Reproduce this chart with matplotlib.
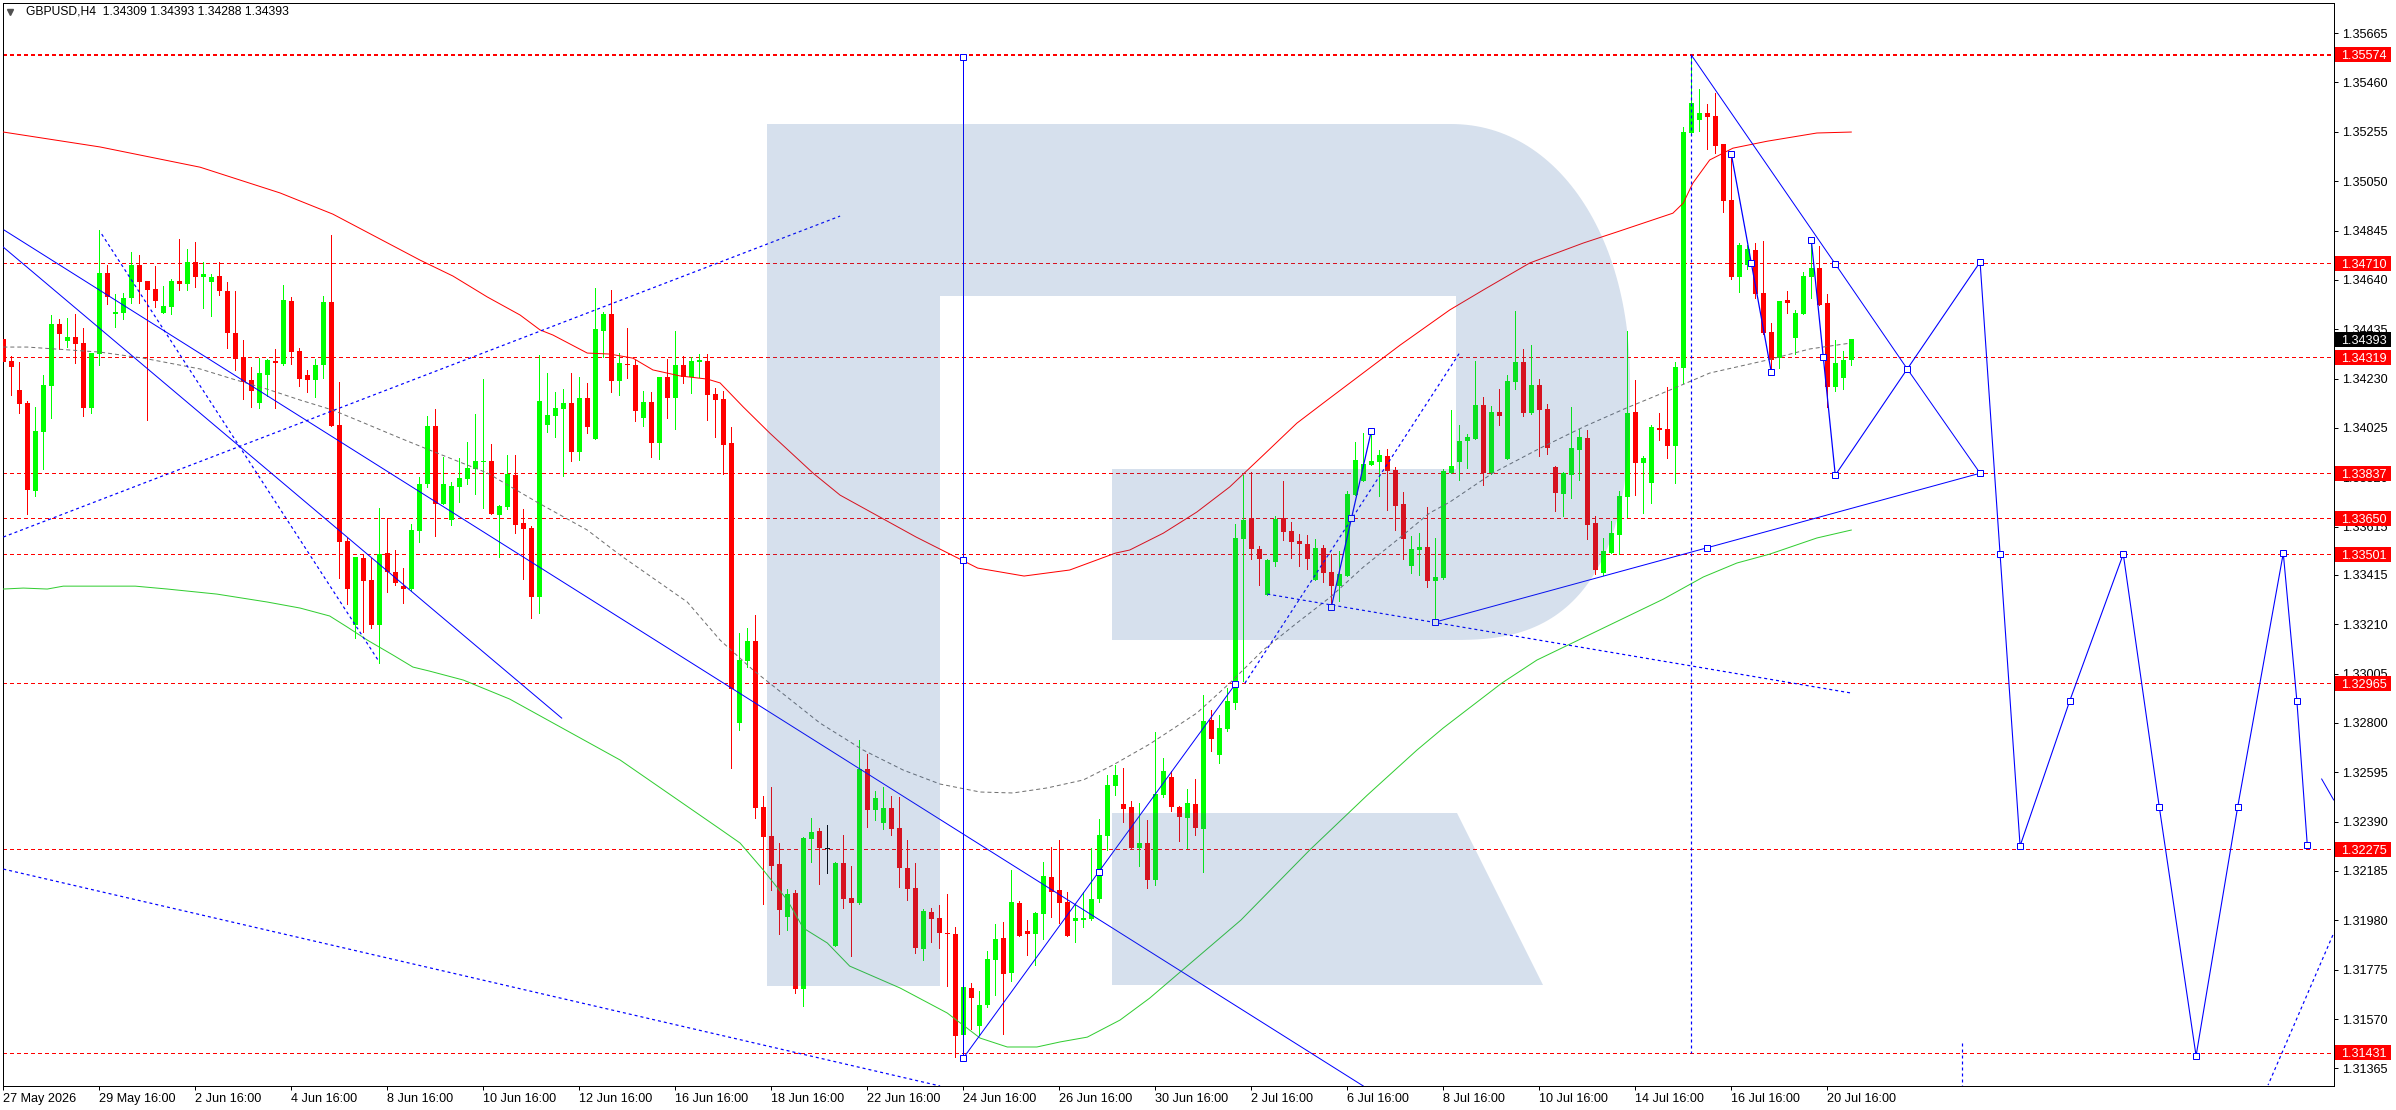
import numpy as np
import matplotlib
matplotlib.use("Agg")
import matplotlib.pyplot as plt
from matplotlib.patches import Rectangle, Polygon
from matplotlib.transforms import Affine2D, blended_transform_factory

plt.rcParams['font.family'] = ['Liberation Sans', 'DejaVu Sans']
plt.rcParams['lines.scale_dashes'] = False

W, H = 2396, 1110

# ---- candle values, in points (1e-5) ----
direction = ("rrrrgggrgr" "rggrgggrrr" "ggrgrggrrr" "rrggrgrrrg" "grrrgrrgrr" "rgggrggggg"
             "grggrrrggg" "grgrggrgrr" "grgrgrggrr" "rrggrrrrgr" "ggrkgrrgrg" "grrrrgrrrr"
             "grgggrgrrg" "grrrgggggg" "rrgrggrrgr" "grggggrrgg" "rrrrgrrggg" "gggrrrggrg"
             "gggggrgrgg" "rgrrrgggrr" "ggggrggrrg" "gggrrrrggr" "rrgrgggrrg" "gg")
highs = [
134573,134323,134299,134137,134112,134245,134494,134477,134481,134498,
134440,134336,134847,134702,134582,134586,134756,134744,134636,134698,
134615,134644,134810,134768,134797,134714,134664,134714,134632,134594,
134390,134278,134315,134311,134353,134619,134569,134357,134266,134311,
134573,134826,134216,133568,133489,133498,133485,133693,133651,133518,
133443,133626,133821,134075,134104,133904,133800,133900,133966,134083,
134228,133958,133705,133912,133912,133688,133618,134328,134253,134174,
134186,134253,134237,134212,134606,134506,134598,134336,134440,134307,
134178,134174,134237,134311,134427,134323,134319,134332,134332,134191,
134178,134029,133173,133194,133248,132497,132534,132301,132110,132106,
132327,132405,132363,132376,132222,132334,132206,132729,132671,132517,
132534,132497,132492,132314,132218,132027,132031,132044,132089,131952,
131703,131720,131687,131853,131965,131973,132189,132060,131981,132015,
132222,132284,132314,132098,132047,132098,132281,132401,132584,132625,
132613,132476,132467,132397,132762,132654,132600,132455,132525,132567,
132916,132853,132833,132945,133626,133830,133842,133534,133480,133659,
133804,133634,133584,133580,133564,133539,133501,133514,133763,133966,
134004,134012,133933,133937,133863,133759,133576,133589,133697,133568,
133855,134099,134037,134000,134303,134153,134116,134186,134245,134510,
134353,134369,134228,134124,133867,133842,134112,134021,134017,133659,
133568,133638,133763,134427,134224,133908,134037,134087,134195,134299,
135275,135574,135432,135370,135416,135204,135158,134793,134785,134793,
134801,134461,134552,134594,134515,134673,134805,134780,134581,134390,
134344,134393]
body_tops = [
134394,134303,134182,134129,134012,134203,134456,134456,134402,134402,
134377,134336,134669,134669,134506,134565,134702,134702,134636,134602,
134531,134636,134636,134714,134714,134664,134651,134656,134594,134419,
134319,134224,134253,134307,134303,134556,134552,134344,134245,134286,
134548,134548,134037,133556,133489,133485,133393,133502,133506,133427,
133368,133601,133792,134033,134033,133792,133784,133817,133858,133888,
133888,133888,133701,133834,133830,133630,133609,134137,134079,134108,
134129,134129,134149,134149,134436,134498,134498,134295,134290,134286,
134133,134133,134237,134237,134286,134286,134303,134307,134303,134166,
134145,133962,133061,133140,133140,132451,132331,132214,132089,132093,
132322,132347,132351,132281,132218,132218,132073,132609,132609,132488,
132447,132447,132363,132198,132114,132019,132015,131990,131928,131923,
131703,131699,131628,131819,131902,131906,132056,132052,131936,132010,
132164,132160,132106,132056,131990,131990,132068,132334,132542,132584,
132463,132451,132301,132301,132505,132600,132575,132451,132467,132463,
132808,132812,132779,132891,133568,133643,133651,133522,133476,133646,
133651,133597,133555,133543,133526,133526,133427,133418,133751,133892,
133875,133888,133912,133908,133850,133709,133522,133530,133530,133406,
133846,133867,133970,133987,134120,134120,134091,134091,134220,134299,
134299,134203,134203,134104,133863,133838,133942,133987,133983,133630,
133514,133589,133742,134087,134091,133900,134029,134025,134021,134278,
135254,135374,135333,135333,135320,135204,134972,134785,134768,134764,
134586,134423,134552,134556,134502,134656,134689,134689,134544,134295,
134307,134393]
body_bottoms = [
134299,134278,134124,133767,133763,134008,134199,134415,134386,134373,
134108,134108,134332,134569,134498,134502,134565,134632,134598,134552,
134502,134527,134623,134623,134651,134651,134632,134594,134419,134311,
134216,134178,134129,134245,134295,134290,134340,134228,134224,134224,
134286,134033,133552,133356,133206,133389,133206,133206,133427,133381,
133356,133356,133597,133792,133709,133709,133643,133780,133813,133855,
133884,133668,133664,133697,133622,133605,133323,133323,134037,134075,
134104,133925,133925,134029,133979,134427,134220,134220,134286,134095,
134066,133962,133962,134149,134149,134237,134237,134299,134161,134141,
133954,132940,132800,133057,132447,132327,132206,132023,131994,131695,
131695,132318,132281,132277,131873,132068,132052,132052,132438,132438,
132384,132359,132198,132110,131865,131860,131986,131928,131923,131499,
131503,131658,131541,131628,131815,131757,131761,131915,131923,131923,
132006,132098,132052,131915,131977,131981,131986,132068,132331,132538,
132442,132281,132281,132147,132147,132501,132451,132409,132405,132363,
132359,132733,132667,132774,132883,133564,133522,133480,133331,133468,
133593,133552,133543,133480,133393,133422,133368,133368,133410,133747,
133805,133871,133884,133846,133701,133564,133451,133518,133389,133389,
133402,133838,133884,133970,133979,133838,133838,134075,133896,134216,
134087,134087,134099,133942,133755,133751,133830,133933,133622,133435,
133422,133506,133580,133738,133880,133880,133796,134017,133950,133950,
134274,135250,135304,135316,135196,134967,134651,134651,134702,134582,
134419,134307,134315,134544,134398,134498,134651,134536,134195,134195,
134232,134309]
lows = [
134157,134161,134087,133668,133742,133855,134066,134353,134361,134295,
134075,134087,134286,134539,134444,134477,134544,134544,134058,134527,
134502,134498,134598,134598,134610,134523,134490,134577,134357,134266,
134145,134112,134108,134157,134108,134286,134290,134199,134174,134153,
134232,134033,133402,133293,133152,133177,133194,133048,133344,133373,
133298,133348,133552,133780,133576,133709,133622,133717,133792,133751,
133693,133668,133489,133688,133589,133398,133236,133257,134008,133987,
133825,133888,133892,134004,133979,134319,134174,134161,134232,134054,
134033,133904,133896,134066,134021,134212,134170,134237,134058,133987,
133834,132613,132771,133032,132405,132047,132106,131923,131940,131678,
131624,132222,132131,132177,131873,132031,131832,132047,132368,132396,
132359,132334,132118,132064,131844,131815,131890,131865,131707,131412,
131499,131529,131503,131620,131670,131508,131728,131915,131836,131795,
131902,131994,131969,131915,131890,131952,131981,132056,132273,132501,
132388,132281,132206,132114,132127,132492,132434,132310,132281,132334,
132181,132683,132633,132766,132858,132974,133480,133373,133331,133451,
133559,133485,133451,133439,133393,133385,133289,133306,133410,133747,
133805,133871,133742,133684,133601,133480,133422,133414,133364,133219,
133398,133838,133809,133858,133979,133788,133834,134037,133896,134186,
134075,134083,133908,133917,133680,133659,133734,133809,133564,133418,
133414,133506,133501,133655,133747,133672,133713,133975,133900,133796,
134212,135250,135258,135183,135167,134922,134643,134589,134685,134565,
134415,134266,134274,134502,134332,134498,134565,134536,134112,134178,
134186,134288]

# ---- moving averages: bar position and value ----
ma_red_bar = [0,12.1,24.6,34.6,41.2,52.1,56.2,60.5,64.6,67.1,68.7,73,75.8,78.7,81.2,84.6,88,89.6,92.5,95.8,101.2,104.6,114.1,121.8,127.6,133.3,139,140.8,145,149.2,153.3,157.5,161.7,165.5,174.6,180.8,185,190.8,197.5,201.7,208.7,210,211.2,213.3,216.2,220.5,226.7,231]
ma_red_val = [135254,135192,135108,135001,134913,134722,134656,134569,134494,134432,134411,134336,134332,134315,134266,134241,134228,134212,134112,134004,133838,133746,133572,133443,133410,133435,133505,133518,133588,133676,133780,133912,134045,134141,134369,134515,134598,134710,134793,134839,134917,134959,135042,135138,135187,135216,135250,135254]
ma_green_bar = [0,2.5,5.5,7.5,16.5,20.5,26.7,33,37.1,40.8,43,45.5,48.7,51.2,53.3,57.5,63.3,77.1,89.6,92.1,95,98,100,103,105.8,112.1,118,122.1,125.5,129.2,132.1,135.5,139.6,143.3,154.7,163.3,170.5,176.7,180,187.3,191.7,207.5,212.5,216.7,220.8,226.7,231]
ma_green_val = [133356,133360,133356,133368,133368,133356,133335,133302,133277,133244,133198,133144,133082,133032,133015,132978,132899,132646,132359,132301,132189,132064,131948,131886,131790,131699,131595,131491,131454,131454,131475,131495,131566,131657,131981,132272,132500,132687,132779,132965,133061,133314,133406,133464,133501,133568,133601]
ma_gray_bar = [0,3,12.1,17.5,24.6,28.7,33,37.1,41.2,44.2,49.6,53.3,60.5,66.7,73,77.1,85.5,89.6,93.7,98,102.1,107.5,112.5,117.1,122.1,126.2,130.5,135,138.7,143.3,149.2,153.3,157.5,161.7,165.9,170,174.2,178.3,180.8,186.2,192.1,197.5,202.9,208.3,213.3,220.5,225.8,231]
ma_gray_val = [134361,134361,134340,134315,134270,134228,134186,134141,134099,134058,133983,133933,133838,133717,133601,133497,133302,133144,133020,132907,132799,132687,132604,132546,132513,132509,132530,132563,132625,132712,132841,132965,133103,133215,133323,133447,133559,133672,133717,133838,133941,134029,134108,134182,134253,134307,134353,134378]

# ---- horizontal levels ----
level_main = 135574
levels = [134710, 134319, 133837, 133650, 133501, 132965, 132275, 131431]
last_price = 134393

# ---- trend lines: (bars, values) ----
solid_lines = [([0.1,170],[134847,131292]), ([0,69.8],[134776,132820]),
               ([120,154],[131408,132961]), ([179,247.1],[133219,133837]),
               ([211,229,238,247.1],[135574,134706,134270,133837])]
dashed_lines = [([0,104.6],[133572,134905]), ([12.3,47],[134830,133053]),
                ([0,117.1],[132193,131292]), ([155.2,182.1],[132965,134340]),
                ([158,231],[133335,132924]), ([291.2,283.1],[131919,131296]),
                ([244.8,244.8],[131471,131292]), ([211,211],[135574,131431])]
thick_lines = [([166,171],[133281,134012]), ([216,218.5,221],[135163,134710,134257]),
               ([226,227.5,229],[134805,134319,133829])]
forecast_bar = [229,238,247.1,249.6,252.1,258.3,265,269.5,274.1,279.3,285,286.7,288]
forecast_val = [133829,134270,134714,133501,132289,132891,133501,132451,131417,132451,133505,132891,132293]
tail_line = ([289.8,291.3],[132567,132480])
vertical_bar = 120
vertical_val = [135565, 131408]
marker_bar = [120,120,120,137,154,166,168.5,171,179,213,216,218.5,221,226,227.5,229,229,238,247.1,247.1,249.6,252.1,258.3,265,269.5,274.1,279.3,285,286.7,288]
marker_val = [135565,133476,131408,132181,132961,133281,133651,134012,133219,133526,135163,134710,134257,134805,134319,133829,134706,134270,134714,133837,133501,132289,132891,133501,132451,131417,132451,133505,132891,132293]

# ---- axis labels ----
price_ticks = [135665,135460,135255,135050,134845,134640,134435,134230,134025,133820,133615,133415,133210,133005,132800,132595,132390,132185,131980,131775,131570,131365]
date_labels = ["27 May 2026","29 May 16:00","2 Jun 16:00","4 Jun 16:00","8 Jun 16:00","10 Jun 16:00","12 Jun 16:00","16 Jun 16:00","18 Jun 16:00","22 Jun 16:00","24 Jun 16:00","26 Jun 16:00","30 Jun 16:00","2 Jul 16:00","6 Jul 16:00","8 Jul 16:00","10 Jul 16:00","14 Jul 16:00","16 Jul 16:00","20 Jul 16:00"]
header = "GBPUSD,H4  1.34309 1.34393 1.34288 1.34393"

P = lambda v: np.asarray(v, dtype=float) / 1e5
PX = 1 / 100 * 72   # points per pixel

fig = plt.figure(figsize=(W/100, H/100), dpi=100, facecolor='white')
ax_l, ax_r, ax_t, ax_b = 2.5, 2334, 2.5, 1086
ax = fig.add_axes([ax_l/W, (H-ax_b)/H, (ax_r-ax_l)/W, (ax_b-ax_t)/H])
ax.set_xlim(-0.1, 291.34)
ax.set_ylim(1.31292, 1.35792)
for s in ax.spines.values():
    s.set_linewidth(PX); s.set_color('black')
ax.yaxis.tick_right()
ax.set_yticks(P(price_ticks))
ax.set_yticklabels([f"{p/1e5:.5f}" for p in price_ticks], fontsize=9.1)
ax.set_xticks(np.arange(len(date_labels))*12)
ax.set_xticklabels(date_labels, ha='left', fontsize=9.1)
ax.tick_params(axis='y', length=3, width=PX, pad=3)
ax.tick_params(axis='x', length=3, width=PX, pad=2)

x = np.arange(len(highs))
col = {'r': '#ff0000', 'g': '#00ff00', 'k': '#000000'}
colors = [col[d] for d in direction]

# levels
ax.axhline(P(level_main), color='#ff0000', lw=2*PX, ls=(0, (3*PX, 3*PX)), zorder=1, antialiased=False)
for lv in levels:
    ax.axhline(P(lv), color='#ff0000', lw=PX, ls=(0, (3*PX, 3*PX)), zorder=1, antialiased=False)

# candles
ax.vlines(x, P(lows), P(highs), colors=colors, linewidths=PX, zorder=2, antialiased=False)
ax.bar(x, P(body_tops)-P(body_bottoms), bottom=P(body_bottoms), width=5/8, color=colors,
       linewidth=0, zorder=3, antialiased=False)

# moving averages
ax.plot(ma_red_bar, P(ma_red_val), color='#ff0000', lw=PX, zorder=4)
ax.plot(ma_green_bar, P(ma_green_val), color='#32cd32', lw=PX, zorder=4)
ax.plot(ma_gray_bar, P(ma_gray_val), color='#707070', lw=PX, ls=(0, (4*PX, 3*PX)), zorder=4)

# blue objects
BLUE = '#0000ff'
for bx, by in solid_lines:
    ax.plot(bx, P(by), color=BLUE, lw=PX, zorder=5)
for bx, by in dashed_lines:
    ax.plot(bx, P(by), color=BLUE, lw=PX*1.2, ls=(0, (3*PX, 3*PX)), zorder=5)
for bx, by in thick_lines:
    ax.plot(bx, P(by), color=BLUE, lw=1.25*PX, zorder=5)
ax.plot(forecast_bar, P(forecast_val), color=BLUE, lw=PX*1.1, zorder=5)
ax.plot(tail_line[0], P(tail_line[1]), color=BLUE, lw=PX, zorder=5)
ax.plot([vertical_bar]*2, P(vertical_val), color=BLUE, lw=PX, zorder=5, antialiased=False)
ax.plot(marker_bar, P(marker_val), ls='none', marker='s', ms=6*PX, mfc='white', mec=BLUE, mew=PX, zorder=6)

# watermark outline (pixel geometry of the logo), laid over the chart
to_fig = Affine2D().scale(1/W, -1/H).translate(0, 1) + fig.transFigure
t_top = np.linspace(np.pi/2, 0, 60)
t_bot = np.linspace(0, -np.pi/2, 60)
def bowl(t, n):
    return np.column_stack([1450 + 180*np.abs(np.cos(t))**(2/n), 382 - 258*np.sign(np.sin(t))*np.abs(np.sin(t))**(2/n)])
bowl_pts = np.vstack([bowl(t_top, 2.1), bowl(t_bot, 2.7)])
wm_r = np.vstack([[(767,986),(767,124)], bowl_pts, [(1112,640),(1112,469),(1456,469),(1456,296),(940,296),(940,986)]])
wm_leg = [(1112,813),(1457,813),(1543,985),(1112,985)]
for pts in (wm_r, wm_leg):
    ax.add_patch(Polygon(pts, closed=True, facecolor='#3264a5', edgecolor='none', alpha=0.2,
                         transform=to_fig, zorder=8, clip_on=False))

# price tags
tr = blended_transform_factory(ax.transAxes, ax.transData)
bw = (2391-2335) / (ax_r-ax_l)
bh = 15 / 24080
def tag(value, face):
    y = value / 1e5
    ax.add_patch(Rectangle((1.0005, y-bh/2), bw, bh, transform=tr, facecolor=face, edgecolor='none',
                           clip_on=False, zorder=9))
    ax.text(1 + 7/(ax_r-ax_l), y, f"{y:.5f}", transform=tr, color='white', fontsize=9.1,
            va='center_baseline', ha='left', zorder=10, clip_on=False)
for v in [level_main] + levels:
    tag(v, '#ff0000')
tag(last_price, '#000000')

# header
fig.text(26/W, 1-12/H, header, fontsize=8.75, color='black', va='center', ha='left')
ax.plot([10/W], [1-12/H], transform=fig.transFigure, marker='v', ms=4, color='#505050', clip_on=False, zorder=10)

fig.savefig('out.png', dpi=100, facecolor='white')
